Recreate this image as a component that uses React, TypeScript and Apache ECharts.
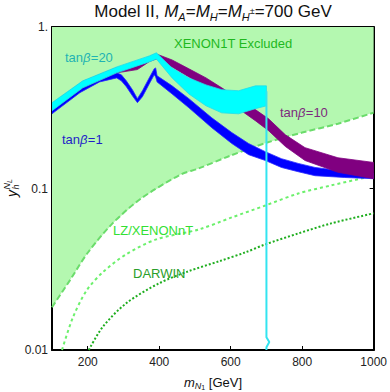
import React, { useEffect, useRef } from "react";
import * as echarts from "echarts";

// ---------- data ----------
// XENON1T exclusion boundary (region above it is excluded)
const xenonX = [100, 150, 200, 270, 350, 460, 510, 600, 700, 800, 900, 1000];
const xenonY = [0.0184, 0.027, 0.04, 0.061, 0.087, 0.122, 0.133, 0.16, 0.192, 0.222, 0.252, 0.295];

// LZ / XENONnT projected sensitivity
const lzX = [128, 158, 197, 242, 308, 392, 511, 603, 697, 789, 881, 1000];
const lzY = [0.01, 0.0158, 0.0234, 0.0303, 0.0392, 0.0484, 0.0558, 0.0662, 0.0785, 0.0931, 0.1045, 0.12];

// DARWIN projected sensitivity
const darwinX = [203, 242, 308, 400, 483, 567, 642, 697, 789, 881, 1000];
const darwinY = [0.01, 0.0139, 0.0195, 0.0259, 0.0308, 0.0354, 0.0403, 0.0451, 0.0527, 0.0608, 0.0702];

// tan(beta) = 1 band
const blueX = [100, 178, 233, 281, 294, 308, 325, 339, 353, 372, 386, 390, 394, 436, 483, 547, 603, 650, 697, 742, 789, 836, 919, 1000];
const blueLo = [0.29, 0.392, 0.457, 0.484, 0.464, 0.427, 0.375, 0.34, 0.37, 0.444, 0.506, 0.491, 0.457, 0.385, 0.316, 0.238, 0.19, 0.162, 0.149, 0.135, 0.127, 0.12, 0.117, 0.115];
const blueHi = [0.321, 0.427, 0.491, 0.52, 0.506, 0.464, 0.409, 0.36, 0.403, 0.484, 0.551, 0.558, 0.499, 0.432, 0.36, 0.274, 0.222, 0.19, 0.169, 0.153, 0.143, 0.135, 0.128, 0.124];

// tan(beta) = 10 band
const purpleX = [100, 186, 281, 339, 372, 392, 436, 483, 531, 575, 622, 669, 706, 753, 808, 900, 1000];
const purpleLo = [0.305, 0.42, 0.52, 0.545, 0.61, 0.634, 0.566, 0.491, 0.427, 0.365, 0.312, 0.263, 0.228, 0.182, 0.149, 0.126, 0.115];
const purpleHi = [0.335, 0.46, 0.56, 0.59, 0.655, 0.681, 0.625, 0.551, 0.484, 0.42, 0.36, 0.308, 0.27, 0.215, 0.179, 0.155, 0.145];

// tan(beta) = 20 band
const cyanX = [100, 186, 281, 372, 392, 436, 483, 531, 575, 622, 669, 700];
const cyanLo = [0.303, 0.42, 0.52, 0.608, 0.634, 0.484, 0.385, 0.325, 0.294, 0.29, 0.312, 0.325];
const cyanHi = [0.34, 0.464, 0.566, 0.662, 0.692, 0.558, 0.484, 0.438, 0.409, 0.403, 0.432, 0.432];

// tan(beta) = 20 line dropping at m_N1 = M_A = 700 GeV
const dropX = [700, 700, 708, 700, 700];
const dropY = [0.4, 0.012, 0.0112, 0.0104, 0.01];

const xTicks = [200, 400, 600, 800, 1000];

const FONT = "Liberation Sans, Arial, sans-serif";

function pairs(xs: number[], ys: number[]) {
  return xs.map((x, i) => [x, ys[i]]);
}

function band(xs: number[], lo: number[], hi: number[], fill: string, stroke: string, z: number) {
  return {
    type: "custom",
    coordinateSystem: "cartesian2d",
    silent: true,
    clip: true,
    z,
    data: [[xs[0], lo[0]]],
    renderItem: (_p: any, api: any) => {
      const pts: number[][] = [];
      for (let i = 0; i < xs.length; i++) pts.push(api.coord([xs[i], hi[i]]));
      for (let i = xs.length - 1; i >= 0; i--) pts.push(api.coord([xs[i], lo[i]]));
      return {
        type: "polygon",
        shape: { points: pts },
        style: { fill, stroke, lineWidth: 0.8 },
      };
    },
  };
}

function region(xs: number[], ys: number[], fill: string) {
  return {
    type: "custom",
    coordinateSystem: "cartesian2d",
    silent: true,
    clip: true,
    z: 1,
    data: [[xs[0], ys[0]]],
    renderItem: (_p: any, api: any) => {
      const pts: number[][] = xs.map((x, i) => api.coord([x, ys[i]]));
      pts.push(api.coord([xs[xs.length - 1], 1]));
      pts.push(api.coord([xs[0], 1]));
      return { type: "polygon", shape: { points: pts }, style: { fill } };
    },
  };
}

function curve(xs: number[], ys: number[], color: string, dash: any, z: number) {
  return {
    type: "line",
    data: pairs(xs, ys),
    showSymbol: false,
    smooth: 0.3,
    silent: true,
    z,
    lineStyle: { color, width: 2, type: dash },
  };
}

function plain(x: number, y: number, text: string, color: string, italic = false) {
  return {
    type: "text",
    x,
    y,
    z: 100,
    style: {
      text,
      fontSize: 13,
      fontFamily: FONT,
      fontStyle: italic ? "italic" : "normal",
      fill: color,
      verticalAlign: "middle",
      align: "left",
    },
  };
}

// "tanβ=…" label: plain texts placed side by side (β in italic)
function tanLabel(x: number, y: number, val: string, color: string) {
  return [
    plain(x, y, "tan", color),
    plain(x + 18.1, y, "β", color, true),
    plain(x + 25.8, y, "=" + val, color),
  ];
}

export default function App() {
  const ref = useRef<HTMLDivElement>(null);
  useEffect(() => {
    if (!ref.current) return;
    const chart = echarts.init(ref.current, null, { renderer: "svg" });
    const logLabel = (v: number) => {
      const e = Math.round(Math.log10(v));
      return e === 0 ? "1." : e === -1 ? "0.1" : e === -2 ? "0.01" : "";
    };
    const axisLine = { show: true, lineStyle: { color: "#000", width: 2 } };
    const tick = { show: true, inside: true, length: 4, lineStyle: { color: "#000", width: 1 } };
    const option: any = {
      animation: false,
      backgroundColor: "#ffffff",
      grid: { left: 52, right: 15, top: 27, bottom: 42, containLabel: false },
      xAxis: [
        {
          type: "value",
          min: 100,
          max: 1000,
          minInterval: 200,
          maxInterval: 200,
          axisLine,
          axisTick: tick,
          splitLine: { show: false },
          axisLabel: {
            showMinLabel: false,
            margin: 6,
            fontSize: 12,
            fontFamily: FONT,
            color: "#222",
            formatter: (v: number) => (xTicks.includes(v) ? String(v) : ""),
          },
        },
        {
          type: "value",
          position: "top",
          min: 100,
          max: 1000,
          minInterval: 200,
          maxInterval: 200,
          axisLine,
          axisTick: tick,
          splitLine: { show: false },
          axisLabel: { show: false },
        },
      ],
      yAxis: [
        {
          type: "log",
          logBase: 10,
          min: 0.01,
          max: 1,
          axisLine,
          axisTick: tick,
          splitLine: { show: false },
          axisLabel: { margin: 4, fontSize: 12, fontFamily: FONT, color: "#222", formatter: logLabel },
        },
        {
          type: "log",
          logBase: 10,
          position: "right",
          min: 0.01,
          max: 1,
          axisLine,
          axisTick: tick,
          splitLine: { show: false },
          axisLabel: { show: false },
        },
      ],
      series: [
        region(xenonX, xenonY, "#b4f8b0"),
        curve(xenonX, xenonY, "#6bdc6b", [6, 3], 2),
        curve(lzX, lzY, "#6cf06c", [3, 3], 2),
        curve(darwinX, darwinY, "#1fae1f", [2, 2], 2),
        band(blueX, blueLo, blueHi, "#0000ff", "#2a2aff", 3),
        band(purpleX, purpleLo, purpleHi, "#800080", "#800080", 4),
        band(cyanX, cyanLo, cyanHi, "#00ffff", "#22dde8", 5),
        {
          type: "line",
          data: pairs(dropX, dropY),
          showSymbol: false,
          silent: true,
          z: 6,
          lineStyle: { color: "#33e4f0", width: 2 },
        },
      ],
      graphic: [
        {
          type: "text",
          x: 213,
          y: 11,
          z: 100,
          style: {
            text: "{n|Model II, }{i|M}{s|A}{n|=}{i|M}{s|H}{n|=}{i|M}{s|H}{p|±}{n|=700 GeV}",
            align: "center",
            verticalAlign: "middle",
            rich: {
              n: { fontSize: 17, lineHeight: 22, fontFamily: FONT, fill: "#111" },
              i: { fontSize: 17, lineHeight: 22, fontFamily: FONT, fill: "#111", fontStyle: "italic" },
              s: { fontSize: 11, lineHeight: 13, fontFamily: FONT, fill: "#111", fontStyle: "italic", verticalAlign: "bottom" },
              p: { fontSize: 9, lineHeight: 9, fontFamily: FONT, fill: "#111", verticalAlign: "middle" },
            },
          },
        },
        {
          type: "text",
          x: 213,
          y: 382,
          z: 100,
          style: {
            text: "{i|m}{s|N}{t|1}{n| [GeV]}",
            align: "center",
            verticalAlign: "middle",
            rich: {
              n: { fontSize: 13, lineHeight: 17, fontFamily: FONT, fill: "#111" },
              i: { fontSize: 13, lineHeight: 17, fontFamily: FONT, fill: "#111", fontStyle: "italic" },
              s: { fontSize: 9, lineHeight: 11, fontFamily: FONT, fill: "#111", fontStyle: "italic", verticalAlign: "bottom" },
              t: { fontSize: 7, lineHeight: 6, fontFamily: FONT, fill: "#111", verticalAlign: "bottom" },
            },
          },
        },
        {
          type: "group",
          x: 12,
          y: 197,
          rotation: Math.PI / 2,
          z: 100,
          children: [
            { type: "text", x: 0, y: 0, style: { text: "y", fontSize: 14, fontStyle: "italic", fontFamily: FONT, fill: "#111", verticalAlign: "middle" } },
            { type: "text", x: 7.5, y: 4, style: { text: "h", fontSize: 9, fontStyle: "italic", fontFamily: FONT, fill: "#111", verticalAlign: "middle" } },
            { type: "text", x: 7.5, y: -5, style: { text: "N", fontSize: 9, fontStyle: "italic", fontFamily: FONT, fill: "#111", verticalAlign: "middle" } },
            { type: "text", x: 14, y: -2.5, style: { text: "L", fontSize: 7, fontStyle: "italic", fontFamily: FONT, fill: "#111", verticalAlign: "middle" } },
          ],
        },
        plain(174, 43, "XENON1T Excluded", "#1fb81f"),
        ...tanLabel(65, 57, "20", "#1fb3b3"),
        ...tanLabel(62, 139, "1", "#1f1fc8"),
        ...tanLabel(280, 112, "10", "#7d2a7d"),
        plain(113, 230, "LZ/XENONnT", "#33e033"),
        plain(133, 273, "DARWIN", "#2a9e2a"),
      ],
    };
    chart.setOption(option);
    return () => chart.dispose();
  }, []);
  return (
    <div
      ref={ref}
      style={{ position: "absolute", left: 0, top: 0, width: 390, height: 392 }}
    />
  );
}
